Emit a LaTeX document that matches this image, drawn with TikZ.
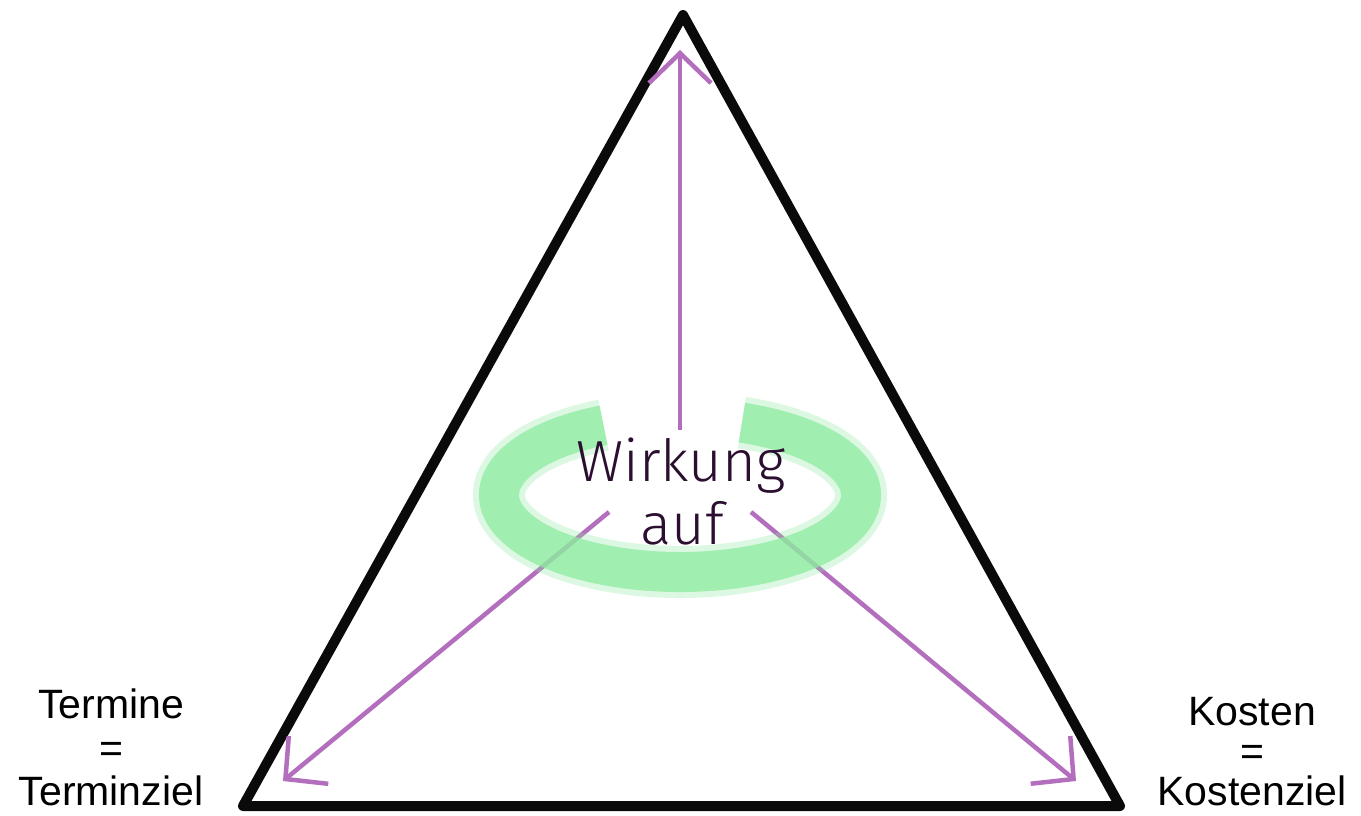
\documentclass[tikz,border=0pt]{standalone}
\usepackage{fontspec}
\setmainfont{Liberation Sans}
\newfontfamily\handfont{Fira Sans Light}
\usetikzlibrary{arrows.meta}
\definecolor{tri}{HTML}{0A0A0A}
\definecolor{arr}{HTML}{B36FBD}
\definecolor{ringc}{HTML}{8DEBA0}
\definecolor{ink}{HTML}{2B0E30}
\begin{document}
\begin{tikzpicture}[x=1pt,y=-1pt,
  edge/.style={draw=tri,line width=10pt,line join=round},
  arrowline/.style={draw=arr,line width=4.5pt,-{Straight Barb[length=30pt,width=62pt,line width=4.5pt]}},
  lbl/.style={font=\fontsize{41}{43}\selectfont,anchor=base,inner sep=0pt},
  handtxt/.style={font=\handfont\fontsize{58}{62}\selectfont,text=ink,anchor=base,inner sep=0pt},
  ringsoft/.style={draw=ringc,line width=52pt,opacity=0.3},
  ringcore/.style={draw=ringc,line width=40pt,opacity=0.75}]
\useasboundingbox (0,0) rectangle (1361,816);
\fill[white] (0,0) rectangle (1361,816);
% triangle
\coordinate (A) at (683,15);
\coordinate (B) at (243,806);
\coordinate (C) at (1120,806);
\draw[edge] (A) -- (B) -- (C) -- cycle;
% arrows
\coordinate (s1) at (680,430); \coordinate (t1) at (680,50);
\coordinate (s2) at (609,512); \coordinate (t2) at (283,781);
\coordinate (s3) at (751,512); \coordinate (t3) at (1076,781);
\draw[arrowline] (s1) -- (t1);
\draw[arrowline] (s2) -- (t2);
\draw[arrowline] (s3) -- (t3);
% green ring
\coordinate (O) at (680,495);
\draw[ringsoft] (O) ++(-70:181 and 77) arc[start angle=-70,end angle=245,x radius=181,y radius=77];
\draw[ringcore] (O) ++(-70:181 and 77) arc[start angle=-70,end angle=245,x radius=181,y radius=77];
% centre text
\node[handtxt] (w) at (681,481) {Wirkung};
\node[handtxt] (a) at (682,544) {auf};
% labels
\node[lbl] (tA) at (111,718) {Termine};
\node[lbl] (tB) at (111,762) {=};
\node[lbl] (tC) at (111,805) {Terminziel};
\node[lbl] (kA) at (1252,725) {Kosten};
\node[lbl] (kB) at (1252,765) {=};
\node[lbl] (kC) at (1252,805) {Kostenziel};
\end{tikzpicture}
\end{document}
